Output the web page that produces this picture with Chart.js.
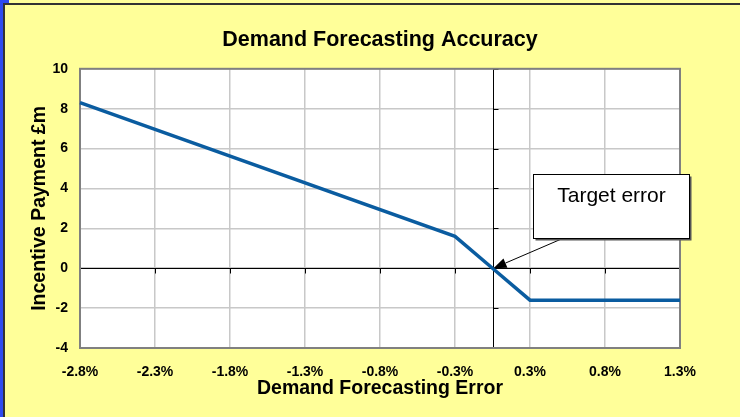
<!DOCTYPE html>
<html>
<head>
<meta charset="utf-8">
<script src="https://cdn.jsdelivr.net/npm/chart.js@4"></script>
<style>
html,body{margin:0;padding:0;background:#FFFF99;}
#wrap{width:740px;height:417px;position:relative;}
</style>
</head>
<body>
<div id="wrap"><canvas id="c" width="740" height="417"></canvas></div>
<script>
// ---- data ----
const chartTitle = 'Demand Forecasting Accuracy';
const xAxisTitle = 'Demand Forecasting Error';
const yAxisTitle = 'Incentive Payment £m';
const errorPct = [-2.75, -0.25, 0, 0.25, 1.25];      // % error
const incentive = [8.3, 1.6, 0, -1.6, -1.6];          // £m
const xTickValues = [-2.75, -2.25, -1.75, -1.25, -0.75, -0.25, 0.25, 0.75, 1.25];
const xTickLabels = ['-2.8%', '-2.3%', '-1.8%', '-1.3%', '-0.8%', '-0.3%', '0.3%', '0.8%', '1.3%'];
const yTickValues = [-4, -2, 0, 2, 4, 6, 8, 10];
const yTickLabels = ['-4', '-2', '0', '2', '4', '6', '8', '10'];
const annotationText = 'Target error';
const annotationTarget = [0, 0];            // data point the arrow points at
const annotationBox = [0.27, 1.31, 4.7, 1.5]; // xMin, xMax, yTop, yBottom (data units)
const annotationArrowStart = [0.47, 1.5];

const FONT = '"Liberation Sans", Arial, sans-serif';

const framePlugin = {
  id: 'frame',
  beforeDraw(chart) {
    const {ctx, chartArea: a, width, height} = chart;
    ctx.save();
    ctx.fillStyle = '#FFFF99';
    ctx.fillRect(0, 0, width, height);
    // blue stripe and dark border
    ctx.fillStyle = '#2E4BF0';
    ctx.fillRect(0, 0, 3, height);
    ctx.fillRect(0, 0, 9, 3);
    ctx.fillStyle = '#333333';
    ctx.fillRect(3, 3, 2, height - 3);
    ctx.fillRect(3, 3, width - 3, 2);
    // plot background
    ctx.fillStyle = '#FFFFFF';
    ctx.fillRect(a.left, a.top, a.right - a.left, a.bottom - a.top);
    ctx.restore();
  },
  beforeDatasetsDraw(chart) {
    const {ctx, chartArea: a, scales: {x, y}} = chart;
    ctx.save();
    // zero axes
    const y0 = Math.round(y.getPixelForValue(0)) + 0.5;
    const x0 = Math.round(x.getPixelForValue(0)) + 0.5;
    ctx.strokeStyle = '#000000';
    ctx.lineWidth = 1;
    ctx.beginPath();
    ctx.moveTo(a.left, y0); ctx.lineTo(a.right, y0);
    ctx.moveTo(x0, a.top); ctx.lineTo(x0, a.bottom);
    xTickValues.forEach(v => {
      const px = Math.round(x.getPixelForValue(v)) + 0.5;
      ctx.moveTo(px, y0); ctx.lineTo(px, y0 + 5);
    });
    yTickValues.forEach(v => {
      const py = Math.round(y.getPixelForValue(v)) + 0.5;
      ctx.moveTo(x0, py); ctx.lineTo(x0 + 5, py);
    });
    ctx.stroke();
    // plot border
    ctx.strokeStyle = '#808080';
    ctx.lineWidth = 2;
    ctx.strokeRect(a.left, a.top, a.right - a.left, a.bottom - a.top);
    ctx.restore();
  },
  afterDatasetsDraw(chart) {
    const {ctx, scales: {x, y}} = chart;
    ctx.save();
    const bx1 = Math.round(x.getPixelForValue(annotationBox[0])) + 0.5;
    const bx2 = Math.round(x.getPixelForValue(annotationBox[1])) + 0.5;
    const by1 = Math.round(y.getPixelForValue(annotationBox[2])) + 0.5;
    const by2 = Math.round(y.getPixelForValue(annotationBox[3])) + 0.5;
    // arrow
    const sx = x.getPixelForValue(annotationArrowStart[0]);
    const sy = y.getPixelForValue(annotationArrowStart[1]);
    const tx = x.getPixelForValue(annotationTarget[0]) + 1;
    const ty = y.getPixelForValue(annotationTarget[1]);
    const ang = Math.atan2(ty - sy, tx - sx);
    const hl = 13, hw = 5;
    ctx.strokeStyle = '#000'; ctx.fillStyle = '#000'; ctx.lineWidth = 1;
    ctx.beginPath();
    ctx.moveTo(sx, sy);
    ctx.lineTo(tx - Math.cos(ang) * hl, ty - Math.sin(ang) * hl);
    ctx.stroke();
    ctx.beginPath();
    ctx.moveTo(tx, ty);
    ctx.lineTo(tx - Math.cos(ang) * hl - Math.sin(ang) * hw, ty - Math.sin(ang) * hl + Math.cos(ang) * hw);
    ctx.lineTo(tx - Math.cos(ang) * hl + Math.sin(ang) * hw, ty - Math.sin(ang) * hl - Math.cos(ang) * hw);
    ctx.closePath();
    ctx.fill();
    // box with shadow
    ctx.fillStyle = '#555';
    ctx.fillRect(bx1 + 2, by1 + 2, bx2 - bx1, by2 - by1);
    ctx.fillStyle = '#FFFFFF';
    ctx.fillRect(bx1, by1, bx2 - bx1, by2 - by1);
    ctx.strokeStyle = '#000'; ctx.lineWidth = 1;
    ctx.strokeRect(bx1, by1, bx2 - bx1, by2 - by1);
    ctx.fillStyle = '#000';
    ctx.font = '21px ' + FONT;
    ctx.textAlign = 'center';
    ctx.textBaseline = 'alphabetic';
    ctx.fillText(annotationText, (bx1 + bx2) / 2, by1 + 27);
    ctx.restore();
  }
};

new Chart(document.getElementById('c'), {
  type: 'scatter',
  data: {
    datasets: [{
      data: errorPct.map((v, i) => ({x: v, y: incentive[i]})),
      showLine: true,
      borderColor: '#0A5CA0',
      borderWidth: 3.5,
      pointRadius: 0,
      pointHoverRadius: 0,
      tension: 0,
      fill: false,
      clip: false
    }]
  },
  options: {
    responsive: false,
    animation: false,
    devicePixelRatio: 1,
    events: [],
    layout: {padding: {left: 0, top: 0, right: 60, bottom: 0}},
    plugins: {
      legend: {display: false},
      tooltip: {enabled: false},
      title: {
        display: true,
        fullSize: false,
        text: chartTitle,
        color: '#000',
        font: {family: FONT, size: 21.5, weight: 'bold', lineHeight: 1.2},
        padding: {top: 27, bottom: 16}
      }
    },
    scales: {
      x: {
        type: 'linear',
        position: 'bottom',
        min: -2.75, max: 1.25,
        afterBuildTicks(s) { s.ticks = xTickValues.map(v => ({value: v})); },
        afterFit(s) { s.height = 69; },
        ticks: {
          autoSkip: false, maxRotation: 0,
          padding: 16,
          color: '#000',
          font: {family: FONT, size: 14, weight: 'bold'},
          callback(v) { const i = xTickValues.indexOf(v); return i >= 0 ? xTickLabels[i] : ''; }
        },
        grid: {color: '#C8C8C8', lineWidth: 1.5, drawTicks: false},
        border: {display: false},
        title: {
          display: true, text: xAxisTitle, color: '#000',
          font: {family: FONT, size: 19.5, weight: 'bold', lineHeight: 1.2},
          padding: {top: 0, bottom: 17}
        }
      },
      y: {
        type: 'linear',
        min: -4, max: 10,
        afterBuildTicks(s) { s.ticks = yTickValues.map(v => ({value: v})); },
        afterFit(s) { s.width = 80; },
        ticks: {
          padding: 12,
          color: '#000',
          font: {family: FONT, size: 14, weight: 'bold'},
          callback(v) { const i = yTickValues.indexOf(v); return i >= 0 ? yTickLabels[i] : ''; }
        },
        grid: {color: '#C8C8C8', lineWidth: 1.5, drawTicks: false},
        border: {display: false},
        title: {
          display: true, text: yAxisTitle, color: '#000',
          font: {family: FONT, size: 19.5, weight: 'bold', lineHeight: 1.2},
          padding: {top: 28, bottom: 0}
        }
      }
    }
  },
  plugins: [framePlugin]
});
</script>
</body>
</html>
